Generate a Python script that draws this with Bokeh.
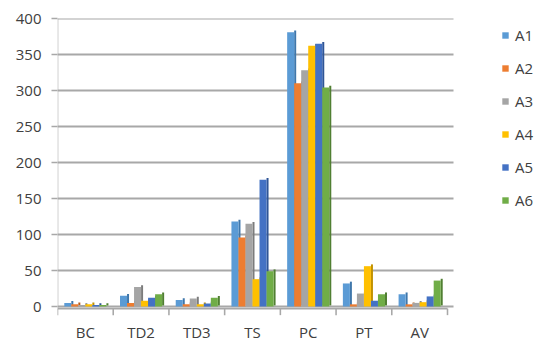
from bokeh.plotting import figure
from bokeh.models import ColumnDataSource, FixedTicker, Legend, LegendItem
from bokeh.transform import dodge
from bokeh.core.properties import value
from bokeh.embed import file_html
from bokeh.resources import INLINE

categories = ["BC", "TD2", "TD3", "TS", "PC", "PT", "AV"]
series = ["A1", "A2", "A3", "A4", "A5", "A6"]
A1 = [5, 15, 9, 118, 381, 32, 17]
A2 = [3, 5, 3, 96, 310, 3, 3]
A3 = [2, 27, 11, 115, 328, 18, 5]
A4 = [3, 8, 3, 38, 362, 56, 6]
A5 = [2, 12, 4, 176, 365, 8, 14]
A6 = [2, 17, 12, 49, 304, 17, 36]
values = [A1, A2, A3, A4, A5, A6]
colors = ["#5B9BD5", "#ED7D31", "#A5A5A5", "#FFC000", "#4472C4", "#70AD47"]
side_colors = ["#3F77AB", "#B55A1C", "#7C7C7C", "#C29200", "#2F5596", "#507F32"]
y_ticks = [0, 50, 100, 150, 200, 250, 300, 350, 400]

FONT = "Open Sans"
TXT = "#404040"
GRID = "#A8A8A8"

n = len(categories)
centers = [i + 0.5 for i in range(n)]
data = {"x": centers}
for s, v in zip(series, values):
    data[s] = v
    data[s + "_side"] = [t + 2.5 for t in v]
src = ColumnDataSource(data)

W, H = 542, 342
LEFT, RIGHT, TOP = 57, 0, 18
unit_px = 390 / 7
frame_w = W - LEFT - RIGHT
p = figure(width=W, height=H, output_backend="svg", toolbar_location=None,
           x_range=(0, frame_w / unit_px), y_range=(-50, 400),
           min_border_left=LEFT, min_border_right=RIGHT, min_border_top=TOP,
           min_border_bottom=0)
p.outline_line_color = None
p.xgrid.visible = False
p.ygrid.visible = False
p.xaxis.visible = False

grid_end = n * 396 / 390
gy = y_ticks[1:]
# horizontal gridlines (thin filled rects)
p.rect(x=[grid_end / 2] * len(gy), y=gy, width=grid_end, height=1.8,
       height_units="screen", fill_color=GRID, line_color=None)
# floor line and category axis line
p.rect(x=[grid_end / 2, n / 2], y=[0, -3], width=[grid_end, n], height=1.8,
       height_units="screen", fill_color=GRID, line_color=None)
# value axis line
tw = 0.014
p.quad(left=[0], right=[tw], bottom=[-3], top=[400], fill_color=GRID, line_color=None)
# category boundary ticks
bounds = list(range(n + 1))
p.quad(left=[b - tw for b in bounds], right=[b + tw for b in bounds],
       bottom=[-12] * len(bounds), top=[-3] * len(bounds),
       fill_color=GRID, line_color=None)
# category labels
p.text(x=centers, y=[-36] * n, text=categories, text_align="center",
       text_baseline="middle", text_font=value(FONT), text_font_size="15px",
       text_color=TXT)

slot = 0.126
depth = 0.036
for k, s in enumerate(series):
    off = (k - 2.5) * slot + slot / 2 + depth / 2
    p.vbar(x=dodge("x", off, range=p.x_range), top=s + "_side", bottom=1.5, width=depth,
           source=src, fill_color=side_colors[k], line_color=None)
faces = []
for k, s in enumerate(series):
    off = (k - 2.5) * slot
    r = p.vbar(x=dodge("x", off, range=p.x_range), top=s, bottom=0, width=slot,
               source=src, fill_color=colors[k], line_color=None)
    faces.append(r)

p.yaxis.ticker = FixedTicker(ticks=y_ticks)
p.yaxis.axis_line_color = None
p.yaxis.major_tick_line_color = GRID
p.yaxis.major_tick_line_width = 1.5
p.yaxis.major_tick_out = 6
p.yaxis.major_tick_in = 0
p.yaxis.minor_tick_line_color = None
p.yaxis.major_label_text_font = FONT
p.yaxis.major_label_text_font_size = "15px"
p.yaxis.major_label_text_color = TXT
p.yaxis.major_label_standoff = 10

legend = Legend(items=[LegendItem(label=s, renderers=[r]) for s, r in zip(series, faces)],
                location=(444, 132), orientation="vertical")
legend.border_line_color = None
legend.background_fill_alpha = 0
legend.padding = 0
legend.margin = 0
legend.spacing = 13
legend.label_height = 20
legend.glyph_height = 8
legend.glyph_width = 8
legend.label_standoff = 6
legend.label_text_font = FONT
legend.label_text_font_size = "15px"
legend.label_text_color = TXT
p.add_layout(legend, "center")

open("out.html", "w").write(file_html(p, INLINE))
